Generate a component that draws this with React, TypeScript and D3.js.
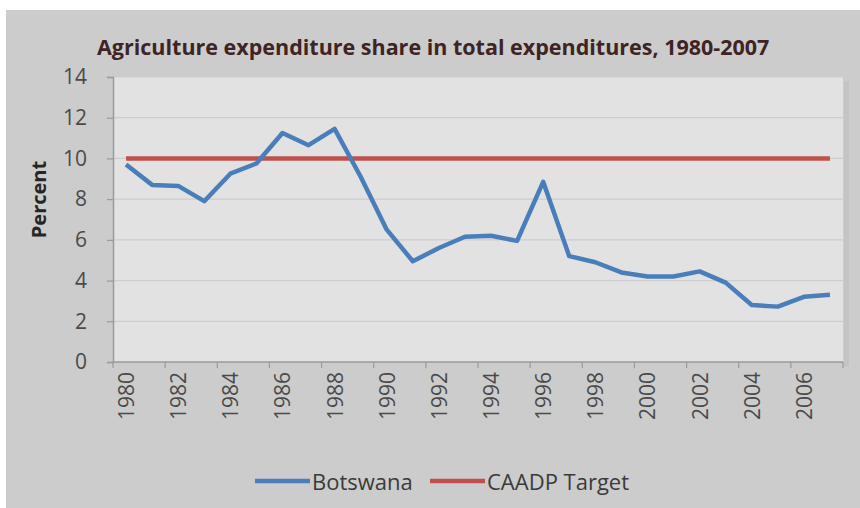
import { useEffect, useRef } from "react"
import * as d3 from "d3"

const years = d3.range(1980, 2008)
const botswana = [
  9.7, 8.7, 8.65, 7.9, 9.25, 9.75, 11.25, 10.65, 11.45, 9.1, 6.5, 4.95, 5.6, 6.15, 6.2, 5.95, 8.85, 5.2,
  4.9, 4.4, 4.2, 4.2, 4.45, 3.9, 2.8, 2.72, 3.2, 3.3,
]
const caadpTarget = 10
const yTicks = [0, 2, 4, 6, 8, 10, 12, 14]
const labelYears = years.filter((y) => (y - 1980) % 2 === 0)

const FONT = "'Open Sans', sans-serif"

export default function App() {
  const svgRef = useRef<SVGSVGElement>(null)

  useEffect(() => {
    if (!svgRef.current) return
    const svg = d3.select(svgRef.current)
    svg.selectAll("*").remove()

    const plot = { left: 113, right: 843, top: 77, bottom: 362 }

    // * Outer frame
    svg.append("rect").attr("x", 6).attr("y", 10).attr("width", 860).attr("height", 500).attr("fill", "#cccccc")

    // * Plot area with a soft shadow on the right
    svg
      .append("rect")
      .attr("x", plot.right + 1)
      .attr("y", plot.top + 4)
      .attr("width", 5)
      .attr("height", plot.bottom - plot.top)
      .attr("fill", "#c4c4c4")
    svg
      .append("rect")
      .attr("x", plot.left)
      .attr("y", plot.top)
      .attr("width", plot.right - plot.left)
      .attr("height", plot.bottom - plot.top)
      .attr("fill", "#e2e2e2")

    const x = d3.scaleBand<number>().domain(years).range([plot.left, plot.right])
    const cx = (yr: number) => (x(yr) ?? 0) + x.bandwidth() / 2
    const y = d3.scaleLinear().domain([0, 14]).range([plot.bottom, plot.top])

    // * Gridlines
    svg
      .append("g")
      .selectAll("line")
      .data(yTicks.filter((t) => t > 0))
      .join("line")
      .attr("x1", plot.left)
      .attr("x2", plot.right)
      .attr("y1", (d) => y(d))
      .attr("y2", (d) => y(d))
      .attr("stroke", "#cdcdcd")
      .attr("stroke-width", 1.2)

    // * Y axis
    const yAxis = svg
      .append("g")
      .attr("transform", `translate(${plot.left},0)`)
      .call(d3.axisLeft(y).tickValues(yTicks).tickSize(6).tickPadding(20))
    yAxis.select(".domain").attr("stroke", "#9a9a9a").attr("stroke-width", 1.5)
    yAxis.selectAll(".tick line").attr("stroke", "#9a9a9a").attr("stroke-width", 1.2)
    yAxis
      .selectAll("text")
      .attr("font-family", FONT)
      .attr("font-size", "21px")
      .attr("fill", "#4a4a4a")

    // * X axis: ticks between categories
    const xg = svg.append("g")
    xg.append("line")
      .attr("x1", plot.left)
      .attr("x2", plot.right)
      .attr("y1", plot.bottom)
      .attr("y2", plot.bottom)
      .attr("stroke", "#9a9a9a")
      .attr("stroke-width", 1.5)
    xg.selectAll("line.tick")
      .data(years.filter((_, i) => i % 2 === 0).concat([2008]))
      .join("line")
      .attr("class", "tick")
      .attr("x1", (d) => (d === 2008 ? plot.right : x(d) ?? 0))
      .attr("x2", (d) => (d === 2008 ? plot.right : x(d) ?? 0))
      .attr("y1", plot.bottom)
      .attr("y2", plot.bottom + 6)
      .attr("stroke", "#9a9a9a")
      .attr("stroke-width", 1.2)
    xg.selectAll("text")
      .data(labelYears)
      .join("text")
      .attr("transform", (d) => `translate(${cx(d)},${plot.bottom + 10}) rotate(-90)`)
      .attr("text-anchor", "end")
      .attr("dominant-baseline", "central")
      .attr("font-family", FONT)
      .attr("font-size", "21px")
      .attr("fill", "#4a4a4a")
      .text((d) => d)

    // * Series
    const line = d3
      .line<number>()
      .x((_, i) => cx(years[i]))
      .y((d) => y(d))

    svg
      .append("line")
      .attr("x1", cx(years[0]))
      .attr("x2", cx(years[years.length - 1]))
      .attr("y1", y(caadpTarget))
      .attr("y2", y(caadpTarget))
      .attr("stroke", "#c0504d")
      .attr("stroke-width", 4.5)

    svg
      .append("path")
      .datum(botswana)
      .attr("d", line)
      .attr("fill", "none")
      .attr("stroke", "#4a7ebb")
      .attr("stroke-width", 4.5)
      .attr("stroke-linejoin", "round")

    // * Title
    svg
      .append("text")
      .attr("x", 97)
      .attr("y", 55)
      .attr("font-family", FONT)
      .attr("font-size", "21.5px")
      .attr("font-weight", "700")
      .attr("fill", "#3e2424")
      .text("Agriculture expenditure share in total expenditures, 1980-2007")

    // * Y label
    svg
      .append("text")
      .attr("transform", `translate(38,${(plot.top + plot.bottom) / 2 - 20}) rotate(-90)`)
      .attr("text-anchor", "middle")
      .attr("dominant-baseline", "central")
      .attr("font-family", FONT)
      .attr("font-size", "20px")
      .attr("font-weight", "700")
      .attr("fill", "#262626")
      .text("Percent")

    // * Legend
    const legend = [
      { name: "Botswana", color: "#4a7ebb", x: 255 },
      { name: "CAADP Target", color: "#c0504d", x: 430 },
    ]
    const lg = svg.append("g")
    legend.forEach((item) => {
      lg.append("line")
        .attr("x1", item.x)
        .attr("x2", item.x + 55)
        .attr("y1", 481)
        .attr("y2", 481)
        .attr("stroke", item.color)
        .attr("stroke-width", 4.5)
      lg.append("text")
        .attr("x", item.x + 57)
        .attr("y", 481)
        .attr("dominant-baseline", "central")
        .attr("font-family", FONT)
        .attr("font-size", "22px")
        .attr("fill", "#3a3a3a")
        .text(item.name)
    })
  }, [])

  return (
    <svg
      ref={svgRef}
      width={860}
      height={508}
      style={{ position: "absolute", left: 0, top: 0, background: "#ffffff" }}
    ></svg>
  )
}
